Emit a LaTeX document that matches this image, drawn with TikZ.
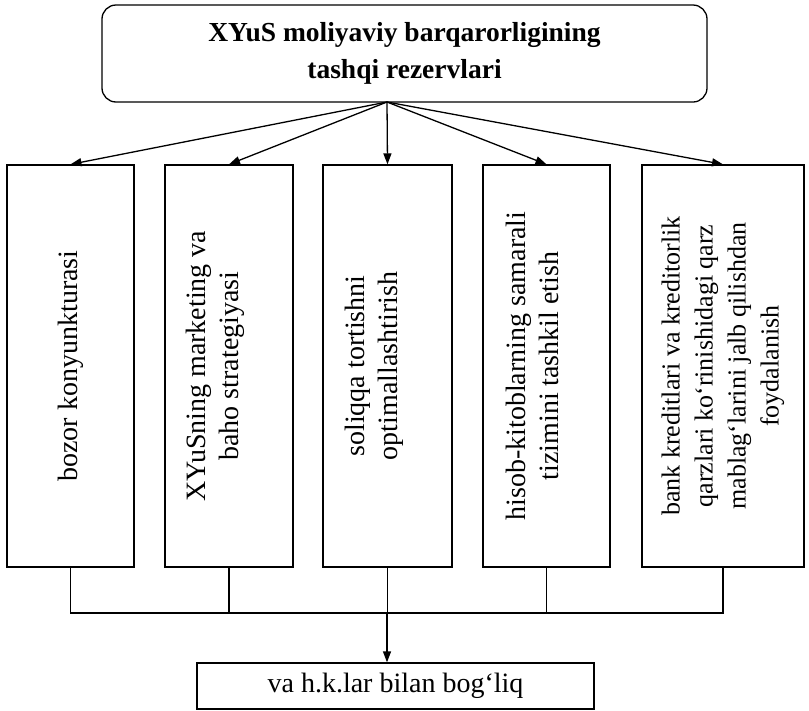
\documentclass[tikz,border=0pt]{standalone}
\usepackage{fontspec}
\setmainfont{Liberation Serif}
\usetikzlibrary{arrows.meta,calc}
\tikzset{
	box/.style={draw, line width=1.3pt, minimum height=402pt, inner sep=0pt},
	lbl/.style={rotate=90, align=center, inner sep=0pt, font=\fontsize{28}{33}\selectfont},
	conn/.style={line width=1.3pt},
	arr/.style={conn, -{Triangle[length=11pt,width=8pt]}}
}

\begin{document}
\begin{tikzpicture}[x=1pt,y=-1pt]
			%%%%% START %%%%%
			\useasboundingbox (0,0) rectangle (809,710);
			
			\node[draw, line width=1.3pt, rounded corners=14pt, minimum width=605pt, minimum height=97pt, align=center, font=\bfseries\fontsize{27.5}{37}\selectfont] (title) at (404.5,53.5) {XYuS moliyaviy barqarorligining\\tashqi rezervlari};
			\coordinate (src) at (387,102);
			
			\node[box, minimum width=127pt] (b1) at (70.5,366) {};
			\node[box, minimum width=128pt] (b2) at (229,366) {};
			\node[box, minimum width=129pt] (b3) at (387.5,366) {};
			\node[box, minimum width=127pt] (b4) at (546.5,366) {};
			\node[box, minimum width=162pt] (b5) at (723,366) {};
			
			\node[lbl] (t1) at (b1.center) {bozor konyunkturasi};
			\node[lbl] (t2) at ($(b2.center)+(-14,0)$) {XYuSning marketing va\\baho strategiyasi};
			\node[lbl] (t3) at ($(b3.center)+(-13,0)$) {soliqqa tortishni\\optimallashtirish};
			\node[lbl] (t4) at ($(b4.center)+(-14,0)$) {hisob-kitoblarning samarali\\tizimini tashkil etish};
			\node[lbl, font=\fontsize{26}{33}\selectfont] (t5) at (b5.center) {bank kreditlari va kreditorlik\\qarzlari ko‘rinishidagi qarz\\mablag‘larini jalb qilishdan\\foydalanish};
			
			\draw[arr] (src) -- (b1.north);
			\draw[arr] (src) -- (b2.north);
			\draw[arr] (src) -- (b3.north);
			\draw[arr] (src) -- (b4.north);
			\draw[arr] (src) -- (b5.north);
			
			\node[draw, line width=1.3pt, minimum width=397pt, minimum height=46pt, font=\fontsize{28}{33}\selectfont] (res) at (395.5,686) {va h.k.lar bilan bog‘liq};
			
			\coordinate (bus) at (387,613);
			\draw[conn] (b1.south) |- (bus) -| (b5.south);
			\draw[conn] (b2.south) -- (b2.south |- bus);
			\draw[conn] (b4.south) -- (b4.south |- bus);
			\draw[conn] (b3.south) -- (b3.south |- bus);
			\draw[arr] (bus) -- (bus |- res.north);
			
			%%%%% END %%%%%
\end{tikzpicture}
\end{document}
